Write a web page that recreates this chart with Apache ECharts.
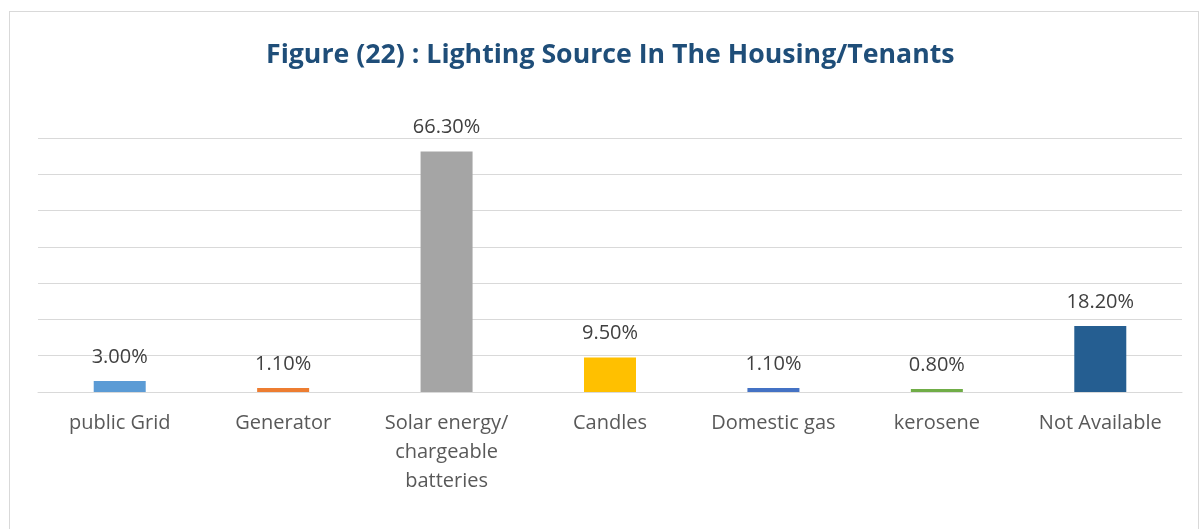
<!DOCTYPE html>
<html>
<head>
<meta charset="utf-8">
<script src="https://cdn.jsdelivr.net/npm/echarts@6/dist/echarts.min.js"></script>
<style>
  html, body { margin: 0; padding: 0; background: #fff; }
  #frame { position: absolute; left: 9px; top: 11px; width: 1190px; height: 530px; border: 1px solid #d9d9d9; border-bottom: none; box-sizing: border-box; }
  #chart { position: absolute; left: 0; top: 0; width: 1202px; height: 529px; }
</style>
</head>
<body>
<div id="frame"></div>
<div id="chart"></div>
<script>
// Lighting sources, share of housing/tenants (%)
const categories = ['public Grid', 'Generator', 'Solar energy/\nchargeable\nbatteries', 'Candles', 'Domestic gas', 'kerosene', 'Not Available'];
const shares = [3.0, 1.1, 66.3, 9.5, 1.1, 0.8, 18.2];
const barColors = ['#5B9BD5', '#ED7D31', '#A5A5A5', '#FFC000', '#4472C4', '#70AD47', '#255E91'];
const titleText = 'Figure (22) : Lighting Source In The Housing/Tenants';

const chart = echarts.init(document.getElementById('chart'), null, { renderer: 'canvas' });
chart.setOption({
  backgroundColor: 'transparent',
  animation: false,
  title: {
    text: titleText,
    left: 266,
    top: 42,
    padding: 0,
    textStyle: { fontFamily: 'Open Sans', fontWeight: 'bold', fontSize: 26.7, color: '#1F4E79' }
  },
  grid: { left: 38, right: 20, top: 138, bottom: 137, containLabel: false },
  xAxis: {
    type: 'category',
    data: categories,
    axisLine: { show: true, lineStyle: { color: '#d9d9d9', width: 1 } },
    axisTick: { show: false },
    axisLabel: {
      interval: 0,
      margin: 17,
      fontFamily: 'Open Sans',
      fontSize: 20,
      lineHeight: 29,
      color: '#595959'
    }
  },
  yAxis: {
    type: 'value',
    min: 0,
    max: 70,
    interval: 10,
    axisLabel: { show: false },
    axisLine: { show: false },
    axisTick: { show: false },
    splitLine: { lineStyle: { color: '#d9d9d9', width: 1 } }
  },
  series: [{
    type: 'bar',
    barWidth: 52,
    data: shares.map((v, i) => ({ value: v, itemStyle: { color: barColors[i] } })),
    label: {
      show: true,
      position: 'top',
      distance: 14,
      fontFamily: 'Open Sans',
      fontSize: 20,
      color: '#404040',
      formatter: p => p.value.toFixed(2) + '%'
    }
  }]
});
</script>
</body>
</html>
